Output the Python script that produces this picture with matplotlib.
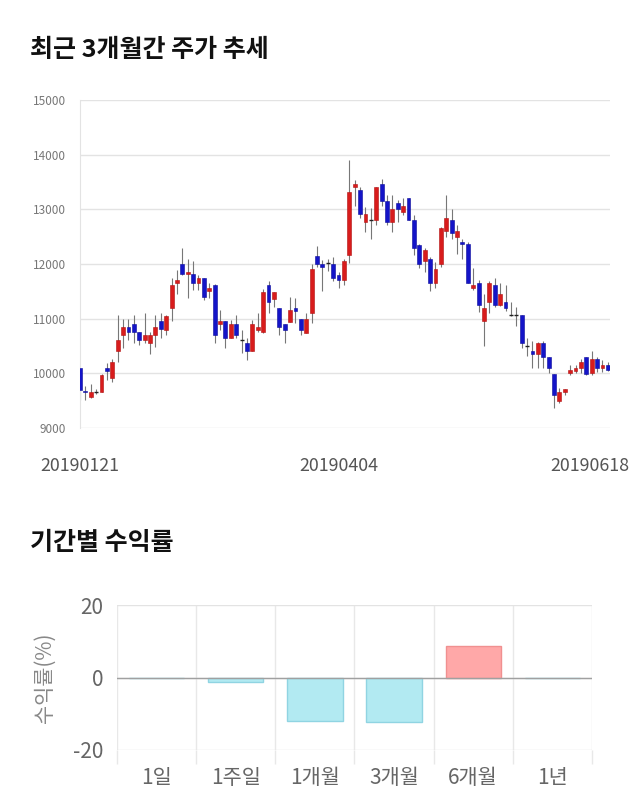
import numpy as np
import matplotlib.pyplot as plt
from matplotlib.transforms import ScaledTranslation

plt.rcParams['font.family'] = ['Noto Sans CJK KR', 'DejaVu Sans']
plt.rcParams['axes.unicode_minus'] = False

# daily prices 2019-01-21 .. 2019-06-18
opens = [10100, 9680, 9570, 9660, 9660, 10100, 9910, 10400, 10700, 10850,
         10900, 10750, 10610, 10550, 10700, 10950, 10790, 11200, 11650, 12000,
         11810, 11810, 11650, 11750, 11510, 11620, 10900, 10960, 10650, 10900,
         10610, 10550, 10400, 10790, 10750, 11620, 11360, 11200, 10900, 10940,
         11200, 11000, 10740, 11100, 12150, 12000, 12010, 12000, 11800, 11700,
         12160, 13400, 13350, 12760, 12800, 12800, 13460, 13150, 12760, 13110,
         12960, 13200, 12800, 12350, 12060, 12100, 11660, 12000, 12610, 12800,
         12500, 12410, 12360, 11560, 11660, 10950, 11300, 11620, 11250, 11300,
         11070, 11070, 11070, 10500, 10410, 10350, 10550, 10300, 9980, 9490,
         9650, 10000, 10050, 10100, 10300, 10000, 10260, 10100, 10150]
closes = [9700, 9660, 9650, 9660, 9970, 10050, 10210, 10610, 10850, 10750,
          10750, 10610, 10700, 10700, 10850, 10810, 11050, 11620, 11710, 11810,
          11850, 11650, 11750, 11400, 11570, 10700, 10960, 10650, 10900, 10700,
          10610, 10400, 10900, 10850, 11490, 11300, 11490, 10850, 10800, 11160,
          11140, 10800, 11000, 11900, 12000, 11950, 12010, 11750, 11710, 12060,
          13310, 13460, 12910, 12910, 12800, 13400, 13150, 12760, 13000, 13000,
          13060, 12800, 12300, 12000, 12260, 11660, 11900, 12650, 12850, 12560,
          12600, 12360, 11650, 11620, 11250, 11200, 11660, 11250, 11450, 11200,
          11070, 11070, 10550, 10500, 10350, 10550, 10300, 10100, 9600, 9650,
          9710, 10060, 10100, 10210, 9980, 10260, 10100, 10150, 10060]
highs = [10100, 9760, 9800, 9710, 9980, 10180, 10270, 11070, 11000, 11000,
         11070, 10760, 11100, 10760, 11070, 11100, 11070, 11740, 11890, 12300,
         12100, 12060, 11800, 11750, 11650, 11630, 11160, 10960, 10980, 11070,
         10790, 10640, 10980, 11100, 11550, 11680, 11490, 11200, 10900, 11400,
         11370, 11000, 11100, 12000, 12330, 12070, 12100, 12130, 11860, 12100,
         13900, 13540, 13400, 13050, 13020, 13400, 13550, 13260, 13260, 13170,
         13200, 13200, 12900, 12360, 12300, 12130, 12040, 12680, 13260, 13010,
         12710, 12460, 12410, 11920, 11710, 11460, 11680, 11750, 11650, 11620,
         11310, 11220, 11070, 10640, 10590, 10580, 10590, 10300, 9980, 9730,
         9710, 10150, 10150, 10270, 10300, 10410, 10300, 10240, 10200]
lows = [9510, 9510, 9540, 9620, 9650, 9880, 9850, 10210, 10460, 10610,
        10550, 10520, 10550, 10350, 10490, 10640, 10700, 10950, 11460, 11800,
        11370, 11520, 11520, 11340, 11370, 10550, 10790, 10460, 10640, 10640,
        10370, 10240, 10400, 10760, 10730, 11100, 11220, 10700, 10550, 10940,
        10920, 10700, 10730, 10920, 11950, 11500, 11880, 11680, 11560, 11620,
        12020, 13060, 12840, 12590, 12450, 12710, 13070, 12710, 12590, 12770,
        12900, 12800, 12170, 11920, 11860, 11510, 11570, 11950, 12500, 12460,
        12180, 12100, 11650, 11520, 11130, 10500, 11100, 11220, 11240, 11140,
        11040, 10870, 10460, 10320, 10100, 10100, 10100, 10000, 9360, 9450,
        9600, 9970, 10000, 10000, 9970, 9970, 10030, 10030, 10040]
date_labels = ['20190121', '20190404', '20190618']
date_idx = [0, 48, 98]
price_ticks = [9000, 10000, 11000, 12000, 13000, 14000, 15000]

periods = ['1일', '1주일', '1개월', '3개월', '6개월', '1년']
returns = [0, -1.2, -12.1, -12.3, 8.8, 0]

fig = plt.figure(figsize=(6.4, 8.1), dpi=100)

fig.text(30 / 640, 1 - 50 / 810, '최근 3개월간 주가 추세', fontsize=18,
         fontweight='bold', va='center', ha='left', color='#111111')
fig.text(30 / 640, 1 - 543 / 810, '기간별 수익률', fontsize=18,
         fontweight='bold', va='center', ha='left', color='#111111')

# ---- candlestick chart
ax = fig.add_axes([80 / 640, 1 - 428 / 810, 530 / 640, 328 / 810])
o = np.array(opens)
c = np.array(closes)
x = np.arange(len(o))
up = c > o
down = c < o
flat = c == o
ax.vlines(x, lows, highs, color='#777777', linewidth=0.8, zorder=2)
ax.bar(x[up], (c - o)[up], bottom=o[up], width=0.72, color='#d81c1c',
       edgecolor='#b01010', linewidth=0.4, zorder=3)
ax.bar(x[down], (o - c)[down], bottom=c[down], width=0.72, color='#1414c8',
       edgecolor='#0a0a9a', linewidth=0.4, zorder=3)
ax.hlines(c[flat], x[flat] - 0.36, x[flat] + 0.36, color='#222222',
          linewidth=1.0, zorder=3)
ax.set_xlim(0, 98.4)
ax.set_ylim(9000, 15000)
ax.set_yticks(price_ticks)
ax.set_yticklabels([str(v) for v in price_ticks])
ax.grid(axis='y', color='#e3e3e3', linewidth=1.0)
ax.set_axisbelow(True)
for s in ['top', 'right', 'bottom']:
    ax.spines[s].set_visible(False)
ax.spines['left'].set_color('#e3e3e3')
ax.tick_params(axis='y', length=0, labelsize=8.5, labelcolor='#777777', pad=10)
ax.set_xticks(date_idx)
ax.set_xticklabels(date_labels)
ax.tick_params(axis='x', length=0, labelsize=12.8, labelcolor='#555555', pad=21)
last = ax.get_xticklabels()[-1]
last.set_horizontalalignment('right')
last.set_transform(last.get_transform() + ScaledTranslation(22 / 100, 0, fig.dpi_scale_trans))

# ---- returns bar chart
bx = fig.add_axes([117 / 640, 1 - 750 / 810, 475 / 640, 145 / 810])
bcol = ['#ffa8a8' if r > 0 else '#b2eaf2' for r in returns]
ecol = ['#f09090' if r > 0 else '#90d4e2' for r in returns]
bx.bar(range(len(periods)), returns, width=0.7, color=bcol, edgecolor=ecol,
       linewidth=1.0, zorder=3)
bx.axhline(0, color='#a0a0a0', linewidth=1.0, zorder=4)
bx.set_xlim(-0.5, len(periods) - 0.5)
bx.set_ylim(-20, 20)
bx.set_yticks([-20, 0, 20])
bx.set_xticks(np.arange(len(periods) + 1) - 0.5, minor=True)
bx.set_xticks(range(len(periods)))
bx.set_xticklabels(periods)
bx.grid(axis='y', color='#e3e3e3', linewidth=1.0)
bx.grid(axis='x', which='minor', color='#e8e8e8', linewidth=1.0)
bx.set_axisbelow(True)
for s in ['top', 'right', 'bottom', 'left']:
    bx.spines[s].set_visible(False)
bx.tick_params(axis='x', which='major', length=0, labelsize=15,
               labelcolor='#666666', pad=12)
bx.tick_params(axis='x', which='minor', length=10, color='#e8e8e8', width=1.0)
bx.tick_params(axis='y', length=0, labelsize=15, labelcolor='#666666', pad=10)
bx.set_ylabel('수익률(%)', fontsize=15, color='#888888', labelpad=12)

fig.savefig('out.png', dpi=100)
